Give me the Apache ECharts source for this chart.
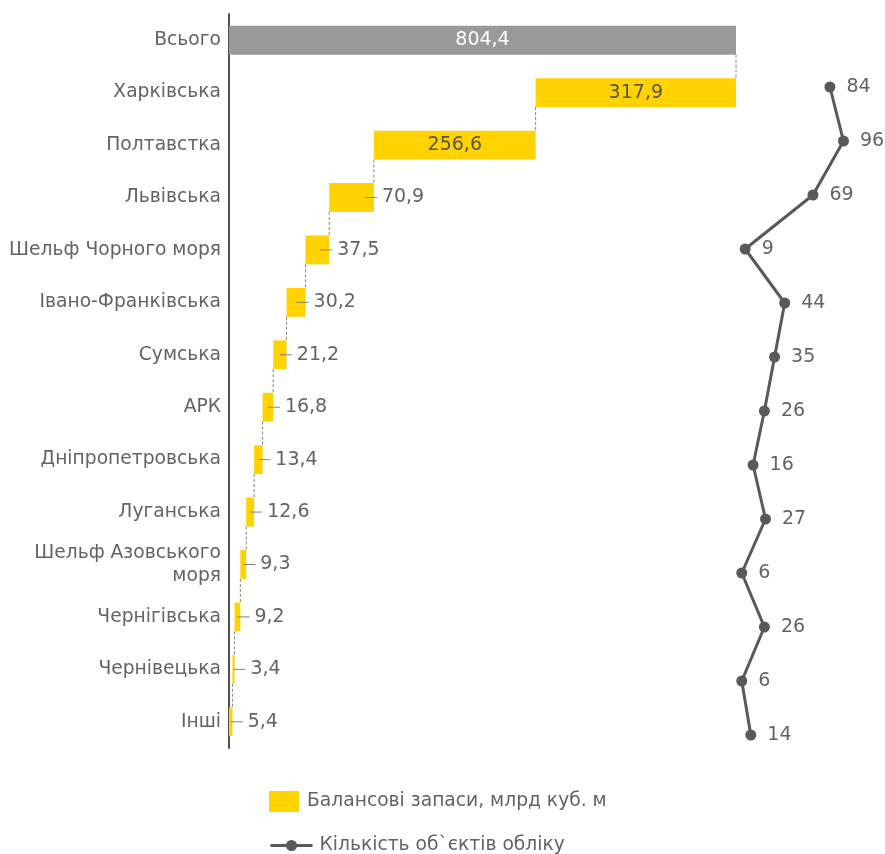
<!DOCTYPE html>
<html>
<head>
<meta charset="utf-8">
<script src="https://cdn.jsdelivr.net/npm/echarts@6/dist/echarts.min.js"></script>
<style>
  html, body { margin: 0; padding: 0; background: #fff; }
  #chart { width: 885px; height: 854px; }
</style>
</head>
<body>
<div id="chart"></div>
<script>
var categories = ['Всього', 'Харківська', 'Полтавстка', 'Львівська', 'Шельф Чорного моря',
    'Івано-Франківська', 'Сумська', 'АРК', 'Дніпропетровська', 'Луганська',
    'Шельф Азовського моря', 'Чернігівська', 'Чернівецька', 'Інші'];
var reserves = [804.4, 317.9, 256.6, 70.9, 37.5, 30.2, 21.2, 16.8, 13.4, 12.6, 9.3, 9.2, 3.4, 5.4];
var objects = [84, 96, 69, 9, 44, 35, 26, 16, 27, 6, 26, 6, 14];

var total = reserves[0];
var gridW = 507;
var txt = '#636363';
var font = 'DejaVu Sans';
var fs = 18.7;

// invisible base of each floating bar
var base = [0];
var running = total;
for (var i = 1; i < reserves.length; i++) {
    running -= reserves[i];
    base.push(Math.max(0, +running.toFixed(1)));
}

function fmt(v) {
    return v.toFixed(1).replace('.', ',');
}

var barData = reserves.map(function (v, i) {
    if (i === 0) {
        return { value: v, itemStyle: { color: '#999999' },
            label: { position: 'inside', color: '#ffffff', formatter: fmt(v) } };
    }
    if (i <= 2) {
        return { value: v, label: { position: 'inside', color: '#555555', formatter: fmt(v) } };
    }
    var px = v / total * gridW;
    return {
        value: v,
        label: {
            position: 'right', distance: 0,
            offset: [-Math.min(9, px / 2), 0],
            formatter: '{t| }{v|' + fmt(v) + '}'
        }
    };
});

// dashed connectors between consecutive bars
var connectors = [];
for (var j = 0; j < reserves.length - 1; j++) {
    connectors.push([j === 0 ? total : base[j], j]);
}

var dom = document.getElementById('chart');
var myChart = echarts.init(dom);
var option = {
    animation: false,
    textStyle: { fontFamily: font },
    grid: [
        { left: 229, top: 14, width: gridW, height: 734 },
        { left: 735, top: 60, width: 113, height: 702 }
    ],
    legend: [
        {
            data: [{ name: 'Балансові запаси, млрд куб. м', icon: 'rect' }],
            orient: 'vertical', left: 269, top: 791, padding: 0,
            itemWidth: 30, itemHeight: 21,
            textStyle: { fontSize: fs, color: txt, fontFamily: font, padding: [0, 0, 0, 3] }
        },
        {
            data: ['Кількість об`єктів обліку'],
            orient: 'vertical', left: 269, top: 836, padding: 0,
            itemWidth: 42, itemHeight: 14,
            lineStyle: { width: 3 },
            textStyle: { fontSize: fs, color: txt, fontFamily: font, padding: [0, 0, 0, 2] }
        }
    ],
    xAxis: [
        { type: 'value', gridIndex: 0, min: 0, max: total, show: false },
        { type: 'value', gridIndex: 1, min: 0, max: 100, show: false }
    ],
    yAxis: [
        {
            type: 'category', gridIndex: 0, inverse: true, data: categories,
            axisLine: { lineStyle: { color: '#505050', width: 2 } },
            axisTick: { show: false },
            axisLabel: {
                fontSize: fs, color: txt, margin: 8, fontFamily: font, lineHeight: 23,
                formatter: function (v) {
                    return v === 'Шельф Азовського моря' ? 'Шельф Азовського\nморя' : v;
                }
            }
        },
        {
            type: 'category', gridIndex: 1, inverse: true, data: categories.slice(1),
            show: false
        }
    ],
    series: [
        {
            type: 'bar', stack: 'w', xAxisIndex: 0, yAxisIndex: 0,
            data: base, barWidth: '55%',
            itemStyle: { color: 'transparent' },
            silent: true
        },
        {
            name: 'Балансові запаси, млрд куб. м',
            type: 'bar', stack: 'w', xAxisIndex: 0, yAxisIndex: 0,
            data: barData, barWidth: '55%',
            itemStyle: { color: '#ffd200' },
            label: {
                show: true, fontSize: 19, color: txt, fontFamily: font,
                rich: {
                    t: { width: 12, height: 1, backgroundColor: '#808080', verticalAlign: 'middle' },
                    v: { fontSize: 19, color: txt, fontFamily: font, padding: [0, 0, 0, 5] }
                }
            }
        },
        {
            type: 'custom', xAxisIndex: 0, yAxisIndex: 0,
            data: connectors,
            encode: { x: 0, y: 1 },
            silent: true,
            renderItem: function (params, api) {
                var x = api.value(0), k = api.value(1);
                var p = api.coord([x, k]);
                var q = api.coord([x, k + 1]);
                var half = api.size([0, 1])[1] * 0.55 / 2;
                return {
                    type: 'line',
                    shape: { x1: p[0], y1: p[1] + half, x2: q[0], y2: q[1] - half },
                    style: { stroke: '#808080', lineWidth: 1, lineDash: [3, 2] }
                };
            }
        },
        {
            name: 'Кількість об`єктів обліку',
            type: 'line', xAxisIndex: 1, yAxisIndex: 1,
            data: objects,
            symbol: 'circle', symbolSize: 11,
            lineStyle: { color: '#595959', width: 3 },
            itemStyle: { color: '#595959' },
            label: { show: true, position: 'right', distance: 11, fontSize: 19, color: txt, fontFamily: font }
        }
    ]
};
myChart.setOption(option);
</script>
</body>
</html>
